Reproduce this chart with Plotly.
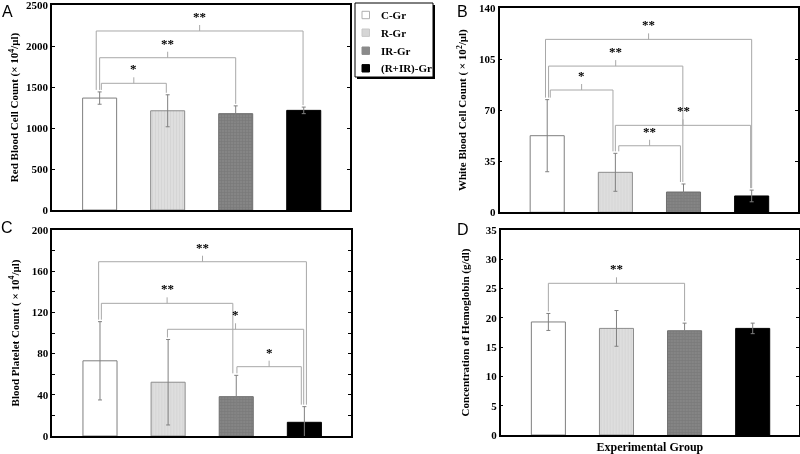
import plotly.graph_objects as go

# ---------------- data ----------------
groups = ["C-Gr", "R-Gr", "IR-Gr", "(R+IR)-Gr"]

rbc_mean = [1365, 1210, 1175, 1215]
rbc_err = [75, 195, 95, 40]

wbc_mean = [52.5, 27.4, 13.9, 11.2]
wbc_err = [24.7, 13.0, 5.5, 4.0]

plt_mean = [73.0, 52.2, 38.2, 13.3]
plt_err = [38.0, 41.5, 20.7, 15.2]

hgb_mean = [19.3, 18.2, 17.8, 18.2]
hgb_err = [1.45, 3.05, 1.3, 0.9]

# y tick labels of the four panels
rbc_ticks = [0, 500, 1000, 1500, 2000, 2500]
wbc_ticks = [0, 35, 70, 105, 140]
plt_ticks = [0, 40, 80, 120, 160, 200]
hgb_ticks = [0, 5, 10, 15, 20, 25, 30, 35]

# significance brackets: (left group, right group, level, label)
rbc_sig = [(0, 1, 1545, "*"), (0, 2, 1857, "**"), (0, 3, 2183, "**")]
wbc_sig = [(0, 1, 83.8, "*"), (0, 2, 100.2, "**"), (0, 3, 118.5, "**"),
           (1, 2, 45.6, "**"), (1, 3, 59.6, "**")]
plt_sig = [(0, 3, 169.2, "**"), (0, 2, 128.8, "**"), (1, 3, 103.6, "*"),
           (2, 3, 67.3, "*")]
hgb_sig = [(0, 2, 25.9, "**")]

# small horizontal nudges of bracket legs (so nested brackets do not overlap)
rbc_nudge = [(0.025, -0.02), (0.0, 0.0), (-0.05, -0.01)]
wbc_nudge = [(0.045, -0.035), (0.02, -0.01), (-0.025, 0.0), (0.05, -0.045), (0.0, -0.015)]
plt_nudge = [(-0.02, 0.03), (0.02, -0.05), (-0.01, -0.01), (0.01, -0.045)]
hgb_nudge = [(0.0, 0.0)]

y_titles = [
    "Red Blood Cell Count (× 10<sup>4</sup>/μl)",
    "White Blood Cell Count ( × 10<sup>2</sup>/μl)",
    "Blood Platelet Count ( × 10<sup>4</sup>/μl)",
    "Concentration of Hemoglobin (g/dl)",
]
x_title = "Experimental Group"
panel_letters = ["A", "B", "C", "D"]

# ---------------- styling ----------------
SERIF = "Liberation Serif, Times New Roman, serif"
fills = ["#ffffff", "#dedede", "#858585", "#000000"]
edges = ["#7f7f7f", "#8c8c8c", "#6f6f6f", "#000000"]
legend_fills = ["#ffffff", "#d6d6d6", "#8a8a8a", "#000000"]
legend_edges = ["#b0b0b0", "#c8c8c8", "#8a8a8a", "#000000"]
patterns = [dict(shape=""),
            dict(shape="|", fgcolor="#cacaca", size=3, solidity=0.3),
            dict(shape="+", fgcolor="#6a6a6a", size=3, solidity=0.35),
            dict(shape="")]

# plot-area domains in pixels: ((left, right), (top, bottom))
W, H = 800, 454
doms = [
    ((52, 350), (5, 210)),
    ((499.5, 798), (8, 212.3)),
    ((52.3, 350.7), (230, 436)),
    ((500.7, 799), (230, 435)),
]
title_standoff = [5, 10, 10, 14]
letter_pos = [(0, 1), (455, 1), (-1, 217), (455, 219)]

fig = go.Figure()

panels = [
    (rbc_mean, rbc_err, rbc_sig, rbc_nudge, rbc_ticks),
    (wbc_mean, wbc_err, wbc_sig, wbc_nudge, wbc_ticks),
    (plt_mean, plt_err, plt_sig, plt_nudge, plt_ticks),
    (hgb_mean, hgb_err, hgb_sig, hgb_nudge, hgb_ticks),
]

XR = (-0.7, 3.68)
BRK = "#a8a8a8"

for p, (means, errs, sigs, nudges, ticks) in enumerate(panels):
    xa = "x" if p == 0 else f"x{p+1}"
    ya = "y" if p == 0 else f"y{p+1}"
    ymax = ticks[-1]
    (x0, x1), (yt, yb) = doms[p]
    px_per_unit = (yb - yt) / ymax
    u = 1.0 / px_per_unit  # data units per pixel

    for g in range(4):
        fig.add_trace(go.Bar(
            x=[g], y=[means[g]], width=0.5,
            name=groups[g], showlegend=False,
            marker=dict(color=fills[g], line=dict(color=edges[g], width=1),
                        pattern=patterns[g]),
            error_y=dict(type="data", array=[errs[g]], color="#808080",
                         thickness=1, width=2),
            xaxis=xa, yaxis=ya, hoverinfo="skip",
        ))

    for (a, b, lvl, lab), (na, nb) in zip(sigs, nudges):
        xl, xr = a + na, b + nb
        yl = means[a] + errs[a] + 2 * u
        yr = means[b] + errs[b] + 2 * u
        xm = (xl + xr) / 2
        fig.add_trace(go.Scatter(
            x=[xl, xl, xr, xr, None, xm, xm],
            y=[yl, lvl, lvl, yr, None, lvl, lvl + 6 * u],
            mode="lines", line=dict(color=BRK, width=1),
            xaxis=xa, yaxis=ya, showlegend=False, hoverinfo="skip",
        ))
        fig.add_annotation(
            x=xm, y=lvl + 6 * u, xref=xa, yref=ya, text="<b>" + lab + "</b>",
            showarrow=False, yanchor="bottom", yshift=-1,
            font=dict(family=SERIF, size=13, color="#000000"),
        )

    lx, ly = letter_pos[p]
    fig.add_annotation(
        x=lx / W, y=1 - ly / H,
        xref="paper", yref="paper", xanchor="left", yanchor="top",
        text=panel_letters[p], showarrow=False,
        font=dict(family="Liberation Sans, Arial, sans-serif", size=16, color="#000000"),
    )

    xkey = "xaxis" if p == 0 else f"xaxis{p+1}"
    ykey = "yaxis" if p == 0 else f"yaxis{p+1}"
    xdict = dict(domain=[x0 / W, x1 / W], range=list(XR), showticklabels=False,
                 ticks="", showgrid=False, zeroline=False, anchor=ya,
                 showline=True, linecolor="black", linewidth=1.5, mirror=True)
    if p == 3:
        xdict["title"] = dict(text="<b>" + x_title + "</b>",
                              font=dict(family=SERIF, size=12, color="#000000"),
                              standoff=8)
    ydict = dict(domain=[1 - yb / H, 1 - yt / H], range=[0, ymax],
                 tickmode="array", tickvals=ticks,
                 ticktext=[f"<b>{t}</b>" for t in ticks],
                 ticklabeloverflow="allow",
                 ticks="inside", ticklen=3, tickcolor="black",
                 tickwidth=1, showgrid=False, zeroline=False, anchor=xa,
                 tickfont=dict(family=SERIF, size=11, color="#000000"),
                 title=dict(text="<b>" + y_titles[p] + "</b>",
                            font=dict(family=SERIF, size=11, color="#000000"),
                            standoff=title_standoff[p]),
                 mirror="ticks", showline=True, linecolor="black", linewidth=1.5)
    if p == 2:
        ydict["minor"] = dict(tickmode="linear", tick0=0, dtick=20,
                              ticks="inside", ticklen=3, tickcolor="black")
    fig.update_layout({xkey: xdict, ykey: ydict})

# ---------------- legend box (drawn from the group lists) ----------------
lx0, ly0, lw, lh = 355, 3, 78, 74
fig.add_shape(type="rect", xref="paper", yref="paper",
              x0=(lx0 + 2) / W, x1=(lx0 + lw + 2) / W,
              y0=1 - (ly0 + lh + 2) / H, y1=1 - (ly0 + 2) / H,
              fillcolor="black", line=dict(width=0))
fig.add_shape(type="rect", xref="paper", yref="paper",
              x0=lx0 / W, x1=(lx0 + lw) / W,
              y0=1 - (ly0 + lh) / H, y1=1 - ly0 / H,
              fillcolor="white", line=dict(color="black", width=1))
row_y = [15, 32.7, 50.7, 68.3]
for g in range(4):
    cy = row_y[g]
    fig.add_shape(type="rect", xref="paper", yref="paper",
                  x0=362 / W, x1=369.5 / W,
                  y0=1 - (cy + 3.7) / H, y1=1 - (cy - 3.7) / H,
                  fillcolor=legend_fills[g], line=dict(color=legend_edges[g], width=1))
    fig.add_annotation(x=379 / W, y=1 - cy / H, xref="paper", yref="paper",
                       xanchor="left", yanchor="middle",
                       text="<b>" + groups[g] + "</b>", showarrow=False,
                       font=dict(family=SERIF, size=11, color="#000000"))

fig.update_layout(
    width=W, height=H,
    margin=dict(l=0, r=0, t=0, b=0, autoexpand=False),
    paper_bgcolor="white", plot_bgcolor="white",
    font=dict(family=SERIF, color="#000000"),
    barmode="overlay",
    showlegend=False,
    hovermode=False,
)

fig.write_html(
    "out.html",
    config={"displayModeBar": False},
    post_script=(
        "document.body.style.margin='0';"
        "document.body.style.overflow='hidden';"
        "document.querySelectorAll('.plotly-graph-div').forEach(function(d){"
        "d.style.willChange='transform';});"
    ),
)
